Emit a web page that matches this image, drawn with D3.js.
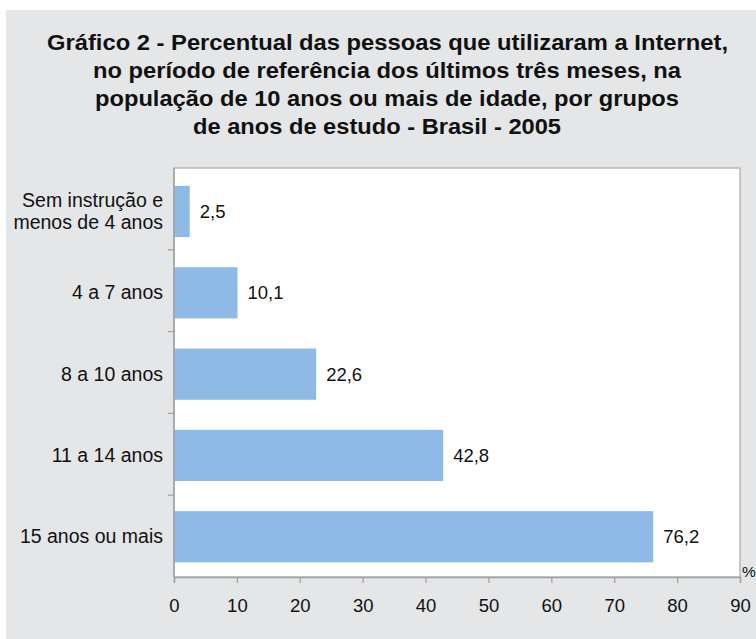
<!DOCTYPE html>
<html>
<head>
<meta charset="utf-8">
<script src="https://cdn.jsdelivr.net/npm/d3@7"></script>
<style>
  html, body { margin: 0; padding: 0; background: #ffffff; }
  svg { display: block; }
  text { font-family: "Liberation Sans", Arial, Helvetica, sans-serif; fill: #111; }
</style>
</head>
<body>
<svg id="chart" width="756" height="639"></svg>
<script>
// ---- data ----
const titleLines = [
  "Gráfico 2 - Percentual das pessoas que utilizaram a Internet,",
  "no período de referência dos últimos três meses, na",
  "população de 10 anos ou mais de idade, por grupos",
  "de anos de estudo - Brasil - 2005"
];
const categories = [
  ["Sem instrução e", "menos de 4 anos"],
  ["4 a 7 anos"],
  ["8 a 10 anos"],
  ["11 a 14 anos"],
  ["15 anos ou mais"]
];
const values = [2.5, 10.1, 22.6, 42.8, 76.2];
const valueLabels = ["2,5", "10,1", "22,6", "42,8", "76,2"];
const xTicks = [0, 10, 20, 30, 40, 50, 60, 70, 80, 90];
const unitLabel = "%";

// ---- layout ----
const W = 756, H = 639;
const plot = { left: 174, right: 740, top: 168, bottom: 577 };
const svg = d3.select("#chart");

// gray panel
svg.append("rect").attr("x", 6).attr("y", 10).attr("width", W - 6).attr("height", H - 10)
  .attr("fill", "#e5e6e8");

// title (bold condensed look via textLength)
const titleGeom = [
  { x0: 47, x1: 728, y: 50 },
  { x0: 93, x1: 681, y: 78 },
  { x0: 95, x1: 679, y: 106 },
  { x0: 193, x1: 561, y: 134 }
];
titleLines.forEach((t, i) => {
  const g = titleGeom[i];
  svg.append("text")
    .attr("x", g.x0).attr("y", g.y)
    .attr("font-size", 22.5).attr("font-weight", "bold")
    .attr("textLength", g.x1 - g.x0)
    .attr("lengthAdjust", "spacingAndGlyphs")
    .text(t);
});

// scales
const x = d3.scaleLinear().domain([0, 90]).range([plot.left, plot.right]);
const y = d3.scaleBand().domain(d3.range(categories.length))
  .range([plot.top, plot.bottom]).paddingInner(0.37).paddingOuter(0.2).align(0.55);

// plot area
svg.append("rect")
  .attr("x", plot.left).attr("y", plot.top)
  .attr("width", plot.right - plot.left).attr("height", plot.bottom - plot.top)
  .attr("fill", "#ffffff").attr("stroke", "#a9a9a9").attr("stroke-width", 1.2);

// bars
svg.append("g").selectAll("rect").data(values).join("rect")
  .attr("x", x(0))
  .attr("y", (d, i) => y(i))
  .attr("width", d => x(d) - x(0))
  .attr("height", y.bandwidth())
  .attr("fill", "#8ebbe6");

// value labels
svg.append("g").selectAll("text").data(values).join("text")
  .attr("x", d => x(d) + 10)
  .attr("y", (d, i) => y(i) + y.bandwidth() / 2 + 6.5)
  .attr("font-size", 18.5)
  .text((d, i) => valueLabels[i]);

// bottom axis
const xAxis = d3.axisBottom(x).tickValues(xTicks).tickSize(6).tickPadding(16)
  .tickFormat(d3.format("d"));
const gx = svg.append("g").attr("transform", `translate(0,${plot.bottom})`).call(xAxis);
gx.select(".domain").attr("stroke", "#a0a0a0").attr("stroke-width", 1.5);
gx.selectAll(".tick line").attr("stroke", "#a0a0a0").attr("stroke-width", 1.2);
gx.selectAll(".tick text").attr("font-size", 18.5).attr("fill", "#111")
  .attr("font-family", "Liberation Sans, Arial, sans-serif");

// left axis ticks at band boundaries
const boundaries = d3.range(1, categories.length).map(i => plot.top + (plot.bottom - plot.top) * i / categories.length);
svg.append("g").selectAll("line").data(boundaries).join("line")
  .attr("x1", plot.left - 6).attr("x2", plot.left)
  .attr("y1", d => d).attr("y2", d => d)
  .attr("stroke", "#a0a0a0").attr("stroke-width", 1.2);
svg.append("line").attr("x1", plot.left).attr("x2", plot.left)
  .attr("y1", plot.top).attr("y2", plot.bottom)
  .attr("stroke", "#a0a0a0").attr("stroke-width", 1.5);

// category labels
const catG = svg.append("g");
categories.forEach((lines, i) => {
  const cy = y(i) + y.bandwidth() / 2;
  const n = lines.length;
  lines.forEach((ln, j) => {
    catG.append("text")
      .attr("x", 163)
      .attr("y", cy + 6.5 + (j - (n - 1) / 2) * 22)
      .attr("text-anchor", "end")
      .attr("font-size", 19.5)
      .text(ln);
  });
});

// unit label
svg.append("text").attr("x", 742).attr("y", 577).attr("font-size", 15.5).text(unitLabel);
</script>
</body>
</html>
